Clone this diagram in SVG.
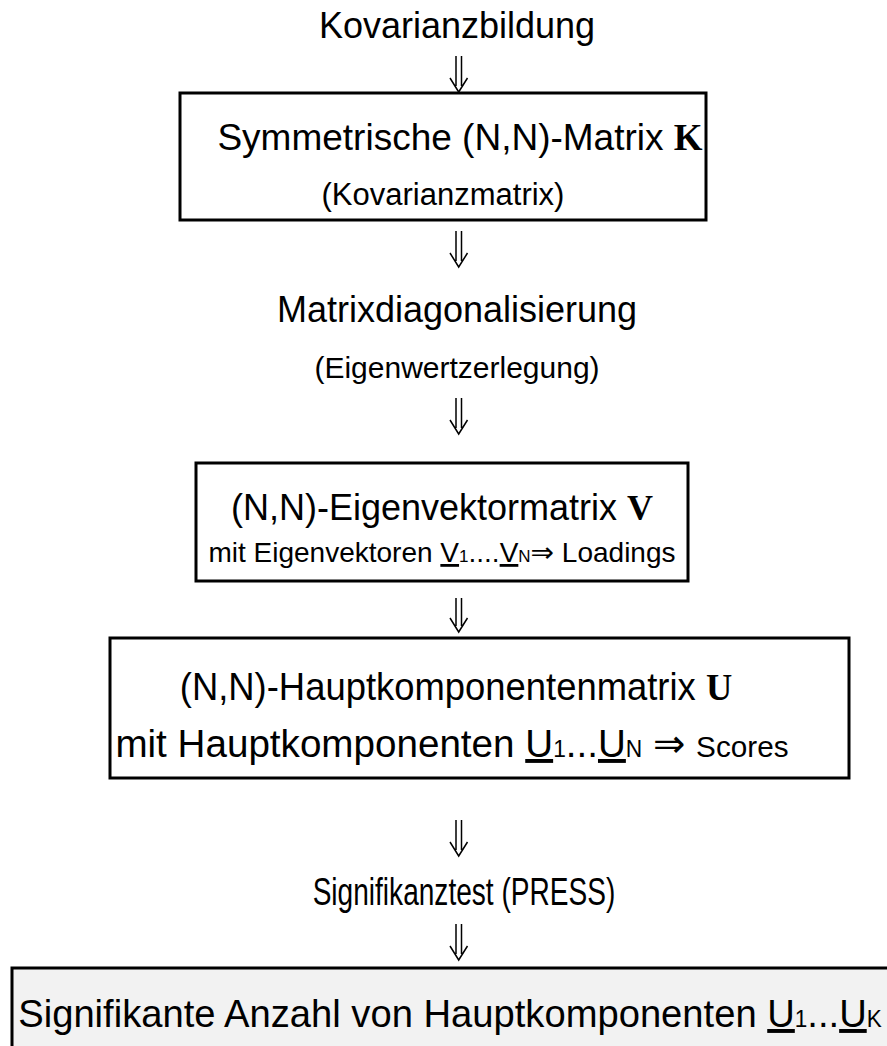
<svg xmlns="http://www.w3.org/2000/svg" width="887" height="1046" viewBox="0 0 887 1046">
<defs>
<style>
.t{font-family:"Liberation Sans",Arial,sans-serif;fill:#000}
.b{font-family:"Liberation Serif","Times New Roman",serif;font-weight:bold}
.sym{font-family:"DejaVu Sans","Liberation Sans",sans-serif}
.box{fill:#fff;stroke:#000;stroke-width:3}
.arr{fill:none;stroke:#000;stroke-width:1.5}
</style>
</defs>
<rect width="887" height="1046" fill="#fff"/>
<g id="connectors">
<path class="arr" d="M456,56V86M461.5,56V86M450,78L458.7,92L467.5,78"/>
<path class="arr" d="M456,231V261M461.5,231V261M450,253L458.7,267L467.5,253"/>
<path class="arr" d="M456,398V428M461.5,398V428M450,420L458.7,434L467.5,420"/>
<path class="arr" d="M456,598V626M461.5,598V626M450,618L458.7,632L467.5,618"/>
<path class="arr" d="M456,820V850M461.5,820V850M450,842L458.7,856L467.5,842"/>
<path class="arr" d="M456,924V954M461.5,924V954M450,946L458.7,960L467.5,946"/>
</g>
<g id="n1"><text class="t" x="457" y="38" font-size="36" text-anchor="middle">Kovarianzbildung</text></g>
<g id="n2">
<rect class="box" x="180" y="93" width="526" height="127"/>
<text class="t" x="460" y="150" font-size="37" text-anchor="middle">Symmetrische (N,N)-Matrix <tspan class="b">K</tspan></text>
<text class="t" x="443" y="205" font-size="31" text-anchor="middle">(Kovarianzmatrix)</text>
</g>
<g id="n3">
<text class="t" x="457" y="322" font-size="36" text-anchor="middle">Matrixdiagonalisierung</text>
<text class="t" x="457" y="378" font-size="30" text-anchor="middle">(Eigenwertzerlegung)</text>
</g>
<g id="n4">
<rect class="box" x="196" y="463" width="492" height="118"/>
<text class="t" x="442" y="520" font-size="36" text-anchor="middle">(N,N)-Eigenvektormatrix <tspan class="b">V</tspan></text>
<text class="t" x="442" y="562" font-size="28" text-anchor="middle">mit Eigenvektoren <tspan text-decoration="underline">V</tspan><tspan font-size="17">1</tspan>....<tspan text-decoration="underline">V</tspan><tspan font-size="17">N</tspan><tspan class="sym">⇒</tspan> Loadings</text>
</g>
<g id="n5">
<rect class="box" x="110" y="638" width="739" height="140"/>
<text class="t" x="456" y="700" font-size="39" text-anchor="middle" transform="matrix(0.934,0,0,1,30.1,0)">(N,N)-Hauptkomponentenmatrix <tspan class="b">U</tspan></text>
<text class="t" x="452" y="757" font-size="39" text-anchor="middle" transform="matrix(0.99,0,0,1,4.5,0)">mit Hauptkomponenten <tspan text-decoration="underline">U</tspan><tspan font-size="23">1</tspan>...<tspan text-decoration="underline">U</tspan><tspan font-size="23">N</tspan> <tspan class="sym">⇒</tspan> <tspan font-size="30">Scores</tspan></text>
</g>
<g id="n6"><text class="t" x="464" y="905" font-size="39" text-anchor="middle" transform="matrix(0.72,0,0,1,129.9,0)">Signifikanztest (PRESS)</text></g>
<g id="n7">
<rect x="12" y="968" width="880" height="90" fill="#f2f2f2" stroke="#000" stroke-width="3"/>
<text class="t" x="450" y="1027" font-size="39" text-anchor="middle" transform="matrix(0.979,0,0,1,9.45,0)">Signifikante Anzahl von Hauptkomponenten <tspan text-decoration="underline">U</tspan><tspan font-size="23">1</tspan>...<tspan text-decoration="underline">U</tspan><tspan font-size="23">K</tspan></text>
</g>
</svg>
